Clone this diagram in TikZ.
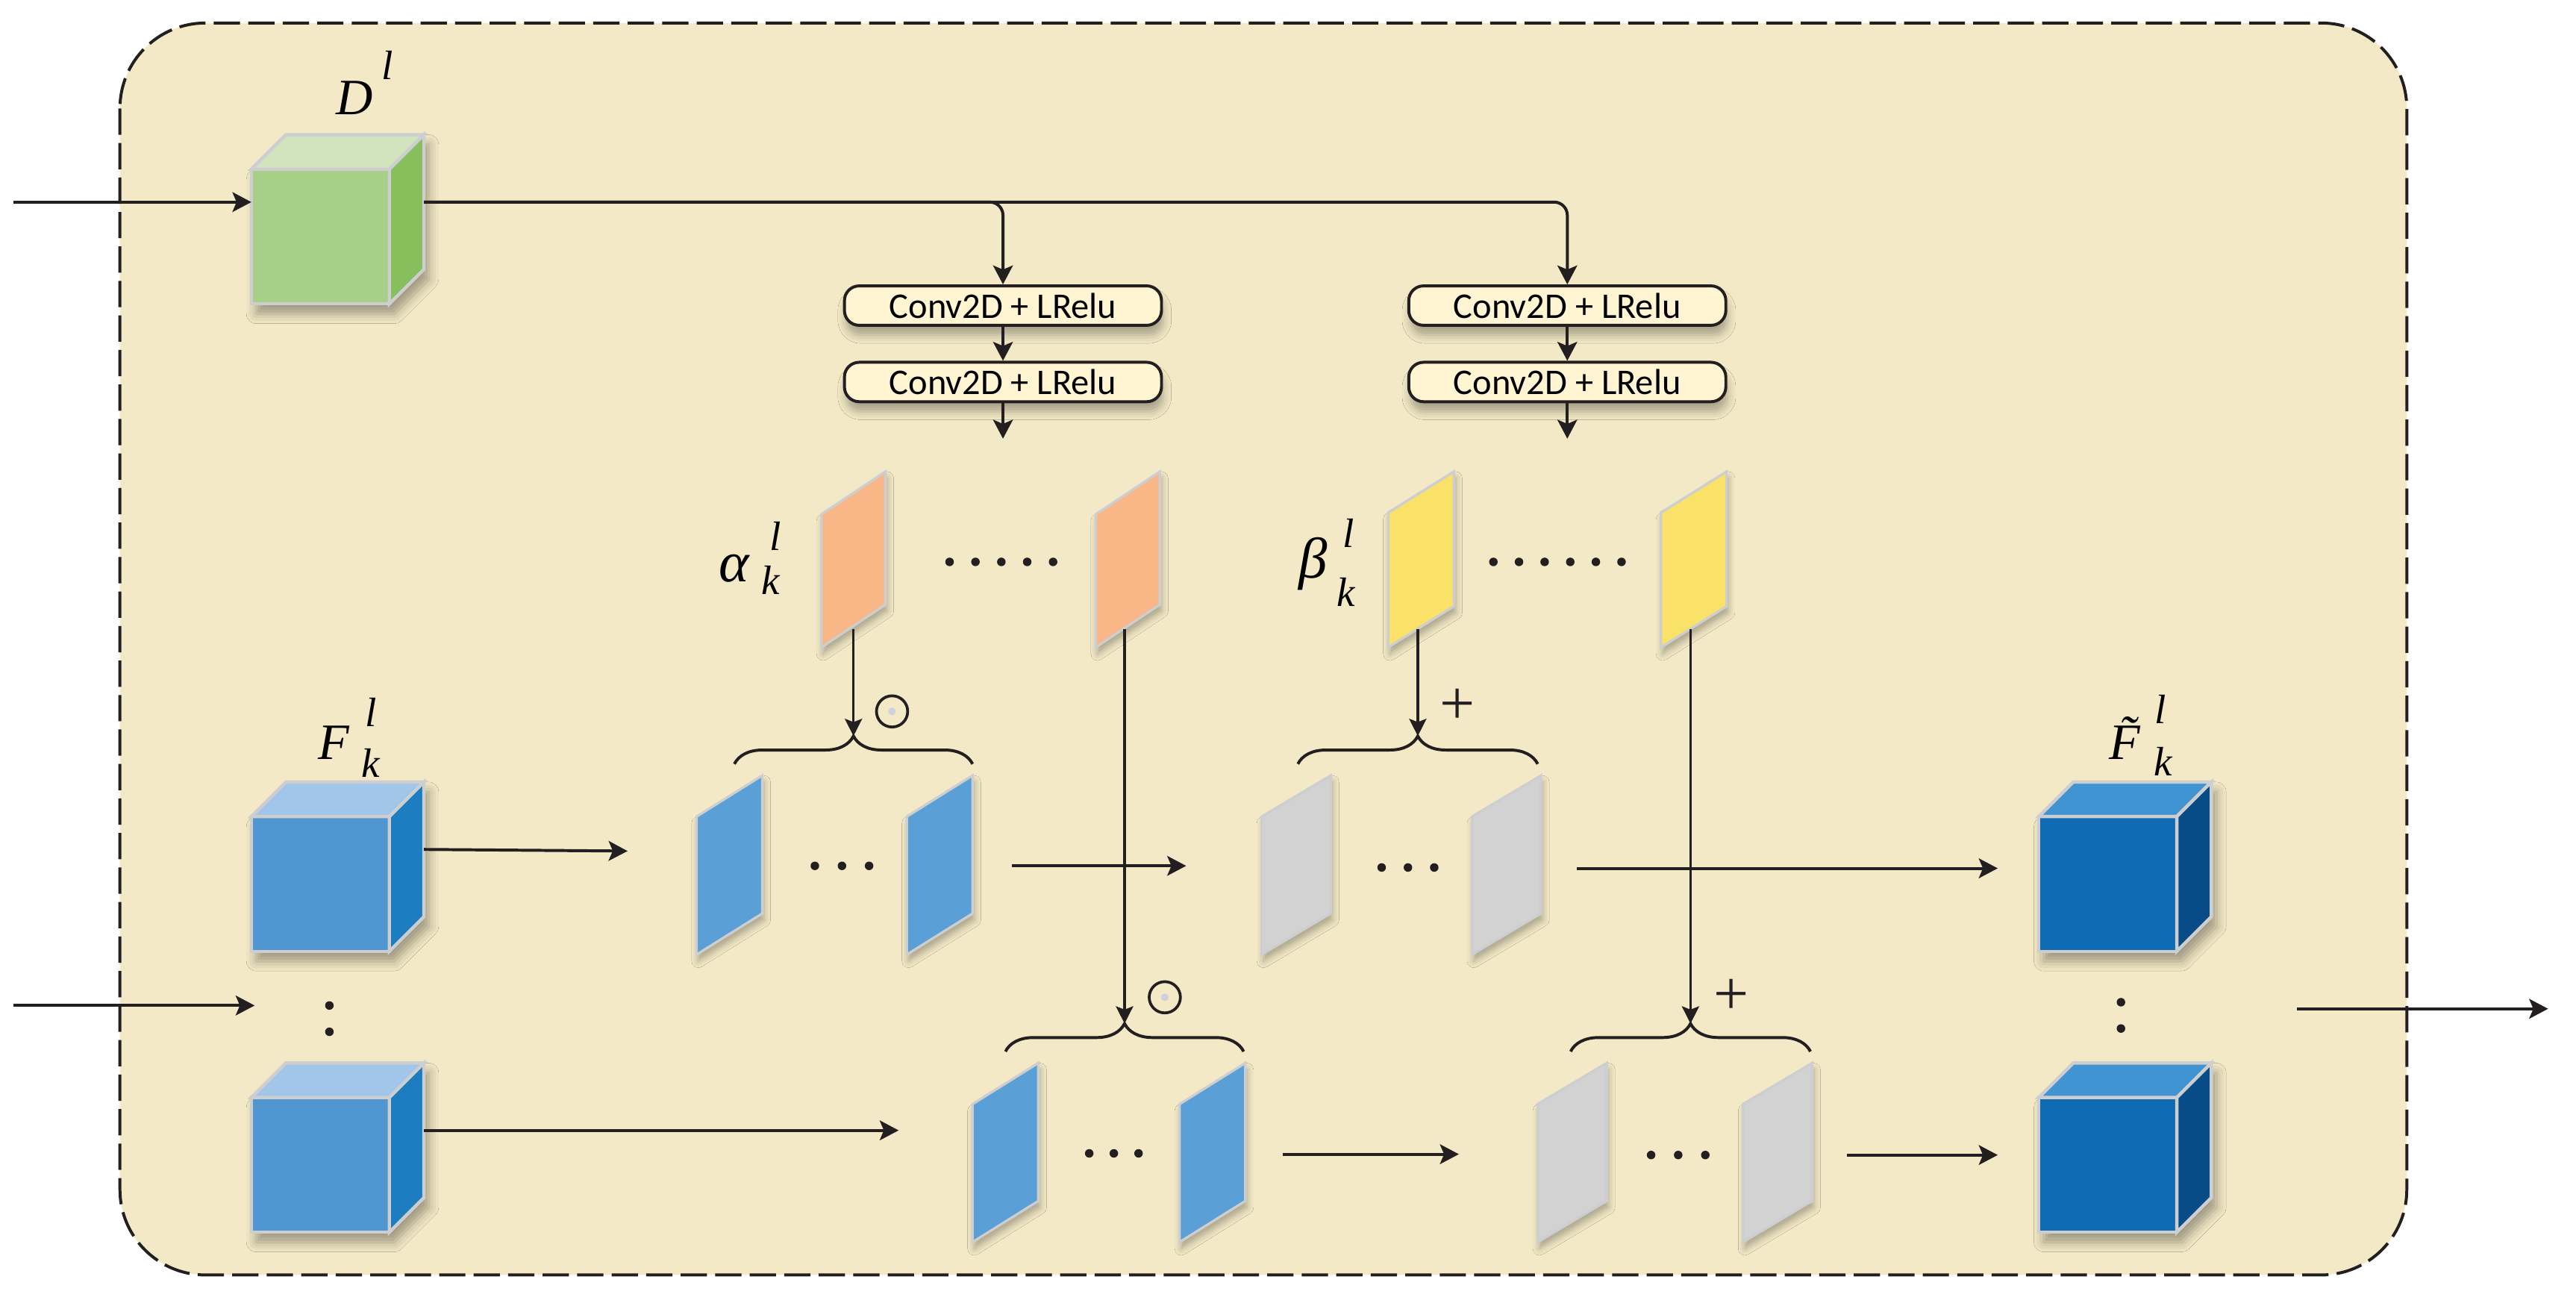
\documentclass[tikz,border=0pt]{standalone}
\usepackage{fontspec}
\setmainfont{Liberation Serif}
\newfontfamily\convfont{Carlito}
\usetikzlibrary{arrows.meta,decorations.pathreplacing,shadows.blur}

\definecolor{bgbeige}{RGB}{243,233,198}
\definecolor{convfill}{RGB}{255,245,210}
\definecolor{lineblk}{RGB}{35,31,32}
\definecolor{edgec}{RGB}{205,206,208}
\definecolor{grfront}{RGB}{167,207,135}
\definecolor{grtop}{RGB}{208,228,190}
\definecolor{grside}{RGB}{135,191,93}
\definecolor{blfront}{RGB}{80,150,209}
\definecolor{bltop}{RGB}{162,198,233}
\definecolor{blside}{RGB}{30,125,193}
\definecolor{dkfront}{RGB}{15,107,179}
\definecolor{dktop}{RGB}{63,148,209}
\definecolor{dkside}{RGB}{7,76,135}
\definecolor{mapblue}{RGB}{90,159,213}
\definecolor{maporange}{RGB}{249,183,136}
\definecolor{mapyellow}{RGB}{250,225,104}
\definecolor{mapgray}{RGB}{210,210,210}
\definecolor{dotgray}{RGB}{205,210,218}

\tikzset{
  frame/.style={draw=lineblk, fill=bgbeige, line width=1.8pt, dash pattern=on 16pt off 5pt, rounded corners=52pt},
  conv/.style={draw=lineblk, line width=1.8pt, rounded corners=9pt, fill=convfill,
    minimum width=193pt, minimum height=24pt, inner sep=0pt,
    font=\convfont\fontsize{22}{22}\selectfont,
    blur shadow={shadow xshift=1pt, shadow yshift=-6pt, shadow opacity=30, shadow blur radius=5pt}},
  arr/.style={draw=lineblk, line width=1.8pt, -{Stealth[length=11.5pt,width=12pt,inset=2.5pt]}},
  varr/.style={draw=lineblk, line width=1.5pt, -{Stealth[length=10.5pt,width=10.5pt,inset=2pt]}},
  brc/.style={draw=lineblk, line width=1.8pt, decorate, decoration={brace, amplitude=17pt}},
  cubefront/.style={draw=edgec, line width=2pt, minimum width=84pt, minimum height=82pt, inner sep=0pt, outer sep=0pt},
  cubeedge/.style={draw=edgec, line width=2pt, line join=miter},
  cubeshadow/.style={blur shadow={shadow xshift=3pt, shadow yshift=-6pt, shadow opacity=35, shadow blur radius=6pt}},
  mapstyle/.style={draw=edgec, line width=1.5pt,
    blur shadow={shadow xshift=1pt, shadow yshift=-4pt, shadow opacity=30, shadow blur radius=4pt}},
  lblbig/.style={inner sep=0pt, anchor=base, font=\itshape\fontsize{31}{31}\selectfont},
  lblsup/.style={inner sep=0pt, anchor=base, font=\itshape\fontsize{25}{25}\selectfont},
  lblgreek/.style={inner sep=0pt, anchor=base, font=\itshape\fontsize{35}{35}\selectfont},
  odotnode/.style={circle, draw=lineblk, line width=1.7pt, minimum size=19pt, inner sep=0pt},
  plusnode/.style={inner sep=0pt, font=\fontsize{38}{38}\selectfont, text=lineblk},
}

\newcommand\mkcube[6]{%
  \begin{scope}[shift={(#2,#3)}]
    \path[cubeshadow] (-42,41) -- (-42,-41) -- (-21,-62) -- (63,-62) -- (63,20) -- (42,41) -- cycle;
    \node[cubefront, fill=#4] (#1) at (0,0) {};
    \filldraw[cubeedge, fill=#5] (-42,-41) -- (-21,-62) -- (63,-62) -- (42,-41) -- cycle;
    \filldraw[cubeedge, fill=#6] (42,-41) -- (63,-62) -- (63,20) -- (42,41) -- cycle;
  \end{scope}}

% color, x, y (left top), width, height of left edge, rise
\newcommand\fmap[6]{%
  \filldraw[mapstyle, fill=#1] (#2,#3) -- ++(#4,-#6) -- ++(0,#5) -- ++(-#4,#6) -- cycle;}

\begin{document}
\begin{tikzpicture}[x=1pt,y=-1pt]
\useasboundingbox (0,0) rectangle (1568,793);
\fill[white] (0,0) rectangle (1568,793);

% outer dashed frame
\draw[frame] (73,14) rectangle (1465,776);

% cubes
\mkcube{D}{195}{144}{grfront}{grtop}{grside}
\mkcube{F1}{195}{538}{blfront}{bltop}{blside}
\mkcube{F2}{195}{709}{blfront}{bltop}{blside}
\mkcube{O1}{1283}{538}{dkfront}{dktop}{dkside}
\mkcube{O2}{1283}{709}{dkfront}{dktop}{dkside}

% labels
\node[lblbig] (Dlab) at (216,69.5) {D};
\node[lblsup] (Dsup) at (236,48.5) {l};
\node[lblbig] (Flab) at (203,462) {F};
\node[lblsup] (Fsup) at (226,442) {l};
\node[lblsup] (Fsub) at (225.5,473) {k};
\node[lblbig] (Ftlab) at (1293.5,462) {\~{F}};
\node[lblsup] (Ftsup) at (1315,440.5) {l};
\node[lblsup] (Ftsub) at (1316.5,472) {k};
\node[lblgreek] (alab) at (447,354) {α};
\node[lblsup] (asup) at (472,335) {l};
\node[lblsup] (asub) at (469,362) {k};
\node[lblgreek] (blab) at (799.5,352) {β};
\node[lblsup] (bsup) at (821,333) {l};
\node[lblsup] (bsub) at (819.5,369) {k};

% conv blocks
\node[conv] (c1a) at (610.5,186) {Conv2D + LRelu};
\node[conv] (c1b) at (610.5,232.5) {Conv2D + LRelu};
\node[conv] (c2a) at (954,186) {Conv2D + LRelu};
\node[conv] (c2b) at (954,232.5) {Conv2D + LRelu};
\coordinate (c1out) at (610.5,267);
\coordinate (c2out) at (954,267);

% input arrows
\coordinate (inD) at (8,123);
\coordinate (inF) at (8,612);
\coordinate (inFend) at (155,612);
\draw[arr] (inD) -- ([shift={(0,-21)}]D.west);
\draw[arr] (inF) -- (inFend);

% D to conv branches
\draw[arr, rounded corners=8pt] ([shift={(21,-21)}]D.east) -| (c1a.north);
\draw[arr, rounded corners=8pt] ([shift={(21,-21)}]D.east) -| (c2a.north);
\draw[arr] (c1a.south) -- (c1b.north);
\draw[arr] (c2a.south) -- (c2b.north);
\draw[arr] (c1b.south) -- (c1out);
\draw[arr] (c2b.south) -- (c2out);

% alpha / beta maps
\fmap{maporange}{500}{313}{39}{81}{26}
\fmap{maporange}{667}{313}{39}{81}{26}
\fmap{mapyellow}{845}{312}{40}{82}{25}
\fmap{mapyellow}{1011}{312}{40}{82}{25}
\foreach \x in {578,593.75,609.5,625.25,641} \fill[lineblk] (\x,342) circle (2.6);
\foreach \x in {909,924.6,940.2,955.8,971.4,987} \fill[lineblk] (\x,342) circle (2.6);

% feature maps row 1
\fmap{mapblue}{424}{497}{40}{84}{25}
\fmap{mapblue}{552}{497}{40}{84}{25}
\fmap{mapgray}{768}{497}{42}{84}{25}
\fmap{mapgray}{896}{497}{42}{84}{25}
\foreach \x in {496,512.5,529} \fill[lineblk] (\x,527) circle (2.6);
\foreach \x in {841,857,873} \fill[lineblk] (\x,528) circle (2.6);

% feature maps row 2
\fmap{mapblue}{592}{672}{40}{84}{25}
\fmap{mapblue}{718}{672}{40}{84}{25}
\fmap{mapgray}{936}{672}{42}{84}{25}
\fmap{mapgray}{1061}{672}{42}{84}{25}
\foreach \x in {663,678,693} \fill[lineblk] (\x,702) circle (2.6);
\foreach \x in {1005,1021.5,1038} \fill[lineblk] (\x,703) circle (2.6);

% vertical dots
\fill[lineblk] (200.5,612) circle (2.6);
\fill[lineblk] (200.5,628) circle (2.6);
\fill[lineblk] (1291,610) circle (2.6);
\fill[lineblk] (1291,626) circle (2.6);

% braces
\draw[brc] (447,465) -- (592,465);
\draw[brc] (790,465) -- (936,465);
\draw[brc] (612,640) -- (757,640);
\draw[brc] (956,640) -- (1102,640);
\coordinate (b1) at (519.5,448);
\coordinate (b2) at (863,448);
\coordinate (b3) at (684.5,623);
\coordinate (b4) at (1029,623);

% vertical connectors from alpha/beta maps
\coordinate (o1) at (519.5,383);
\coordinate (o2) at (684.5,383);
\coordinate (y1) at (863,383);
\coordinate (y2) at (1029,383);
\draw[varr] (o1) -- (b1);
\draw[varr] (o2) -- (b3);
\draw[varr] (y1) -- (b2);
\draw[varr] (y2) -- (b4);

% operators
\node[odotnode] (m1) at (543,433) {};
\fill[dotgray] (m1) circle (2.3);
\node[odotnode] (m2) at (709,607) {};
\fill[dotgray] (m2) circle (2.3);
\node[plusnode] (p1) at (887,430) {+};
\node[plusnode] (p2) at (1054,607) {+};

% horizontal flow arrows
\coordinate (r1a) at (382,518);
\coordinate (r1b0) at (616,527);
\coordinate (r1b1) at (722,527);
\coordinate (r1c0) at (960,528.5);
\coordinate (r1c1) at (1216,528.5);
\coordinate (r2a) at (547,688);
\coordinate (r2b0) at (781,702.5);
\coordinate (r2b1) at (888,702.5);
\coordinate (r2c0) at (1124,703);
\coordinate (r2c1) at (1216,703);
\coordinate (out0) at (1398,614);
\coordinate (out1) at (1551,614);
\draw[arr] ([shift={(21,-21)}]F1.east) -- (r1a);
\draw[arr] (r1b0) -- (r1b1);
\draw[arr] (r1c0) -- (r1c1);
\draw[arr] ([shift={(21,-21)}]F2.east) -- (r2a);
\draw[arr] (r2b0) -- (r2b1);
\draw[arr] (r2c0) -- (r2c1);
\draw[arr] (out0) -- (out1);
\end{tikzpicture}
\end{document}
